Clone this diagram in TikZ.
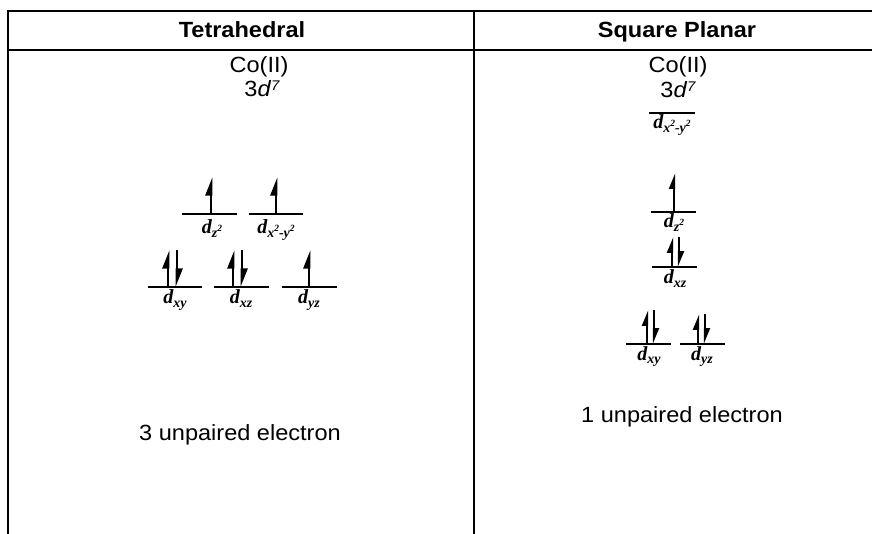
\documentclass[tikz,border=0pt]{standalone}
\usepackage{fontspec}
\setmainfont{Liberation Sans}[FakeStretch=1.07]
\newfontfamily\orbfont{Liberation Serif}
\usetikzlibrary{
  arrows.meta,
  positioning
}
% orbital labels: bold italic d with subscript
\newcommand{\orb}[1]{{\orbfont\bfseries\itshape\fontsize{20}{20}\selectfont d\raisebox{-0.4ex}{\fontsize{14}{14}\selectfont #1}}}
\newcommand{\sqr}{\raisebox{0.9ex}{\fontsize{9.5}{9.5}\selectfont 2}}
\newcommand{\cfg}{3\textit{d}\raisebox{0.55ex}{\fontsize{14}{14}\selectfont\itshape 7}}

\begin{document}
\begin{tikzpicture}[
  x=1pt, y=-1pt,
  every node/.style={font=\fontsize{22}{26}\selectfont, inner sep=0pt, anchor=base},
  grid/.style={line width=2.3pt, line cap=rect},
  head/.style={font=\fontsize{22}{26}\selectfont\bfseries},
  level/.style={line width=2pt},
  spin/.style={-{Stealth[harpoon, length=15pt, width=11pt, inset=0pt]}, line width=2.6pt},
  spinsm/.style={-{Stealth[harpoon, length=13pt, width=10pt, inset=0pt]}, line width=2.3pt},
  orblbl/.style={font=\normalsize},
]
\useasboundingbox (0,0) rectangle (872,534);

% table frame
\draw[grid] (872,11) -- (8,11) -- (8,534);
\draw[grid] (8,50) -- (872,50);
\draw[grid] (474,11) -- (474,534);

% headers
\node[head] (htet) at (242,38) {Tetrahedral};
\node[head] (hsq)  at (677,38) {Square Planar};

% ion and configuration
\node (tion) at (259,73) {Co(II)};
\node (tcfg) at (262,97) {\cfg};
\node (sion) at (678,73) {Co(II)};
\node (scfg) at (678,98) {\cfg};

% Tetrahedral: upper pair
\draw[level] (182,214) -- (237,214);
\draw[level] (249,214) -- (303,214);
\draw[spin] (211,214) -- (211,177);
\draw[spin] (276,214) -- (276,177);
\node[orblbl] (tz2)   at (212,234) {\orb{z\sqr}};
\node[orblbl] (tx2y2) at (276,234) {\orb{x\sqr-y\sqr}};

% Tetrahedral: lower three
\draw[level] (148,287) -- (202,287);
\draw[level] (214,287) -- (269,287);
\draw[level] (282,287) -- (337,287);
\draw[spin] (168,287) -- (168,250);
\draw[spin] (177,250) -- (177,287);
\draw[spin] (233,287) -- (233,250);
\draw[spin] (242,250) -- (242,287);
\draw[spin] (309,287) -- (309,250);
\node[orblbl] (txy) at (175,304) {\orb{xy}};
\node[orblbl] (txz) at (241,304) {\orb{xz}};
\node[orblbl] (tyz) at (309,304) {\orb{yz}};

% Square planar levels
\draw[level] (649,113) -- (695,113);
\node[orblbl] (sx2y2) at (672,129) {\orb{x\sqr-y\sqr}};

\draw[level] (651,212) -- (696,212);
\draw[spinsm] (674,212) -- (674,173);
\node[orblbl] (sz2) at (674,228) {\orb{z\sqr}};

\draw[level] (652,267) -- (697,267);
\draw[spinsm] (672,267) -- (672,237);
\draw[spinsm] (679,237) -- (679,267);
\node[orblbl] (sxz) at (675,284) {\orb{xz}};

\draw[level] (626,344) -- (671,344);
\draw[level] (680,344) -- (725,344);
\draw[spinsm] (647,344) -- (647,310);
\draw[spinsm] (654,310) -- (654,344);
\draw[spinsm] (698,344) -- (698,314);
\draw[spinsm] (705,314) -- (705,344);
\node[orblbl] (sxy) at (649,360) {\orb{xy}};
\node[orblbl] (syz) at (702,360) {\orb{yz}};

% unpaired count
\node (tres) at (240,440) {3 unpaired electron};
\node (sres) at (682,422) {1 unpaired electron};
\end{tikzpicture}
\end{document}
